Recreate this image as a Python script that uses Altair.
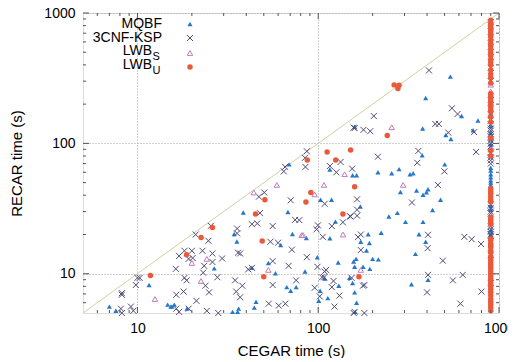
import altair as alt
import pandas as pd

FONT = "Liberation Sans"
TIMEOUT = 900

# ---- scattered points (CEGAR time, RECAR time) ----
mqbf_x = [26.6, 11.6, 7, 7.6, 14.7, 15.3, 15.5, 16, 18.8,
          69, 116, 155, 103, 118.5, 38.5, 68, 124.5, 34.3, 72, 86, 116, 35.5, 62, 53, 98.8,
          58, 84.5, 129, 157, 108.6, 130, 67, 70.4, 75.5, 102.5, 100.7, 113, 45.3, 44.3,
          36.3, 35.8, 33.6, 43,
          501, 163, 214, 255, 280, 322, 335, 285, 350, 380, 397, 405, 475, 171, 429, 274,
          246, 304, 380, 189, 223, 361, 172, 192, 185, 393, 345, 162, 200, 215, 159, 177,
          193, 149, 405, 155, 328, 159, 163, 160,
          538, 393, 621, 765, 159, 378, 508, 719, 542, 376]
mqbf_y = [11.0, 8.2, 5.6, 5.2, 5.8, 5.6, 5.6, 5.8, 5.4,
          69, 63, 57, 37, 37, 29.5, 29.8, 25.1, 20.2, 20.2, 18.8, 18.7, 17.7, 16.6, 12.1, 13.4,
          10.1, 10.4, 12.2, 12.4, 9.2, 8.1, 7.9, 7.4, 7.9, 7.4, 6.2, 6.5, 6.1, 5.5,
          5.4, 5.1, 5.1, 11.1,
          69, 57, 60, 59, 63.5, 58, 59, 42.4, 43.5, 40.4, 42.2, 44.5, 37, 32.8, 30.8, 29.3,
          27.5, 25, 25, 20.1, 20.6, 20.1, 17.6, 17.2, 15.1, 17.6, 14.2, 13, 13, 12.9, 11.3, 11.3,
          10.9, 9.3, 9.0, 8.5, 8.3, 7.2, 6.0, 5.1,
          325, 223, 162, 150, 134, 130, 116, 126, 108, 81]

cnf_x = [21, 25.5, 24.7, 18.2, 20, 22.9, 26, 17, 19.2, 20.2, 23.4, 26, 16.3, 23.1, 10.3, 10,
         9.8, 18.2, 18.7, 23.8, 27.7, 8.2, 8.2, 16.4, 18, 21.2, 8.1, 8.2, 9.2, 9.5, 17, 19.2,
         24.2, 24.9, 16.4, 28,
         65.6, 64.5, 85, 116, 133, 126, 154, 50.3, 47, 70.5, 108.6, 47.6, 150, 74.5, 78.6, 137,
         43, 46, 56, 99.6, 97.9, 119, 35.6, 35.6, 106, 54.4, 60, 71.5, 29.4, 36, 37, 56, 86.5,
         41, 43, 68.6, 99, 108.6, 110.5, 34.7, 38, 56, 75.5, 105, 108, 121.5, 153, 119, 95.6,
         35.2, 37, 131, 102, 53.3, 60.5, 65.8, 123,
         353, 499, 459, 330, 164, 164, 151, 164, 405, 172, 166, 643, 706, 796, 172, 403, 489,
         405, 630, 556, 180, 177, 400, 800, 612, 159, 180, 157,
         86.5, 84.5, 157, 410, 549, 590, 203, 159, 178, 194, 444, 465, 524, 728, 214, 358, 747]
cnf_y = [20, 23.3, 17.9, 15, 15, 15, 14.3, 13.7, 13, 13.2, 11.5, 12.3, 10.9, 10.2, 9.3, 9.3,
         8.2, 9.3, 8.9, 8.1, 9.4, 7.1, 6.9, 6.9, 7.3, 6.2, 5.4, 5.0, 5.6, 5.2, 5.1, 5.4,
         5.2, 7.2, 5.4, 5.0,
         66, 61, 66, 67, 72, 60, 64, 42, 39, 36.6, 34.4, 29.2, 27.6, 25.9, 25.8, 24.8,
         24, 24.3, 23.2, 23.5, 21.9, 23.2, 22.2, 20.4, 19.2, 17.6, 17.3, 15.3, 13.1, 14.5, 14.3, 12.5, 13.4,
         10.8, 11.1, 11.5, 11.3, 10.4, 10.7, 8.9, 8.1, 8.2, 8.9, 9.4, 9.4, 8.8, 9.3, 7.9, 7.8,
         7.3, 6.6, 6.8, 6.7, 5.9, 5.7, 5.9, 5.6,
         71, 61, 48, 35.2, 37.2, 31, 27.5, 27.9, 19.9, 20, 19.1, 19.2, 18.4, 16.9, 15.2, 15.7, 12.6,
         9.8, 9.8, 8.9, 8.2, 8.1, 7.2, 7.3, 5.9, 5.1, 5.0, 5.0,
         87, 77.5, 132, 363, 186, 168, 162, 131, 127, 124, 141, 141, 121, 122, 79, 87.5, 86]

lwbs_x = [20, 24.2, 22.5, 12.5, 140, 59, 107.6, 44, 95.6, 81, 82.5, 137, 53, 295, 172, 255]
lwbs_y = [12.1, 13, 8.8, 6.4, 58, 48, 48, 42, 40.6, 19.8, 19.8, 20, 10.7, 48, 10.7, 133]

lwbu_x = [22.5, 26, 18.7, 11.8, 87, 125, 50.7, 91, 85.5, 45, 137, 49, 50, 159, 168,
          112, 151, 263, 280, 276, 241]
lwbu_y = [19, 22.6, 14, 9.7, 74.5, 74.5, 37, 42, 35.5, 28.7, 28.7, 17.8, 9.5, 46.5, 9.5,
          86, 89, 281, 279, 264, 115]

# ---- instances that timed out for CEGAR (x = timeout), RECAR time ----
mqbf_col_y = [770, 720, 300, 170, 135, 120, 108, 98, 90, 65, 62, 58, 55, 52, 50, 48, 46,
              33, 31, 21.5, 20]
cnf_col_y = [850, 800, 650, 550, 460, 380, 300, 215, 185, 150, 140, 130, 125, 118, 112, 105,
             100, 95, 85, 78, 74, 70, 34, 32, 30, 29, 23, 22, 21, 20, 19.5, 14, 8.5]
lwbs_col_y = [282, 250, 90]
lwbu_col_y = [880, 830, 790, 750, 720, 690, 660, 620, 590, 560, 530, 500, 470, 440, 420, 400,
              365, 340, 320, 290, 240, 230, 220, 210, 200, 190, 180, 175, 160, 145, 110, 88, 80,
              45, 43, 41, 39, 37, 35.5, 27, 26, 25, 24, 18.5, 18, 17, 16.5, 16, 15, 14.5, 13.5,
              13, 12.5, 12, 11.5, 11, 10.5, 10, 9.6, 9.2, 8.8, 8.4, 8, 7.6, 7.2, 6.8, 6.4, 6.1,
              5.8, 5.5, 5.2]

diag = [5, 1000]
major_ticks = [10, 100, 1000]
minor_ticks = [6, 7, 8, 9, 20, 30, 40, 50, 60, 70, 80, 90, 200, 300, 400, 500, 600, 700, 800, 900]

series_names = ["MQBF", "3CNF-KSP", "LWB", "LWB"]
series_subs = ["", "", "S", "U"]
colors = ["#2577cc", "#4e4a78", "#c27bb9", "#ea5a3a"]

W, H = 416, 300
xscale = alt.Scale(type="log", domain=[5, 1000], nice=False)
yscale = alt.Scale(type="log", domain=[5, 1000], nice=False)

axis_common = dict(values=major_ticks, grid=True, gridDash=[1, 2], gridColor="#a0a0a0",
                   gridWidth=1, tickSize=0, domain=False, labelFont=FONT, labelFontSize=14,
                   labelColor="#000", titleFont=FONT, titleFontSize=15, titleColor="#000",
                   titleFontWeight="normal", format="d", labelFlush=False)
X = alt.X("x:Q", scale=xscale,
          axis=alt.Axis(title="CEGAR time (s)", labelPadding=8, titleY=37,
                        titleBaseline="middle", **axis_common))
Y = alt.Y("y:Q", scale=yscale,
          axis=alt.Axis(title="RECAR time (s)", labelPadding=8, titleX=-67,
                        titleBaseline="middle", **axis_common))


def pts(xs, ys):
    return pd.DataFrame({"x": xs, "y": ys})


X_PATH = "M-1,-1L1,1M-1,1L1,-1"

def series_layer(df, k):
    if k == 0:
        m = alt.Chart(df).mark_point(shape="triangle-up", filled=True, size=26, color=colors[0], opacity=1)
    elif k == 1:
        m = alt.Chart(df).mark_point(shape=X_PATH, filled=False, size=36, strokeWidth=1, color=colors[1], opacity=1)
    elif k == 2:
        m = alt.Chart(df).mark_point(shape="triangle-up", filled=False, size=30, strokeWidth=1, color=colors[2], opacity=1)
    else:
        m = alt.Chart(df).mark_point(shape="circle", filled=True, size=30, color=colors[3], opacity=1)
    return m


data_sets = [
    pts(mqbf_x + [TIMEOUT] * len(mqbf_col_y), mqbf_y + mqbf_col_y),
    pts(cnf_x + [TIMEOUT] * len(cnf_col_y), cnf_y + cnf_col_y),
    pts(lwbs_x + [TIMEOUT] * len(lwbs_col_y), lwbs_y + lwbs_col_y),
    pts(lwbu_x + [TIMEOUT] * len(lwbu_col_y), lwbu_y + lwbu_col_y),
]

diag_layer = alt.Chart(pts(diag, diag)).mark_line(color="#c9d4a3", strokeWidth=1).encode(x=X, y=Y)

layers = [diag_layer]
for k, df in enumerate(data_sets):
    layers.append(series_layer(df, k).encode(x=X, y=Y))

# tick marks (inward, on all four sides)
def tick_layers(vals, ln):
    d = pd.DataFrame({"x": vals, "y": vals})
    out = []
    out.append(alt.Chart(d).mark_rule(color="#555").encode(x=X, y=alt.value(H), y2=alt.value(H - ln)))
    out.append(alt.Chart(d).mark_rule(color="#555").encode(x=X, y=alt.value(0), y2=alt.value(ln)))
    out.append(alt.Chart(d).mark_rule(color="#555").encode(y=Y, x=alt.value(0), x2=alt.value(ln)))
    out.append(alt.Chart(d).mark_rule(color="#555").encode(y=Y, x=alt.value(W), x2=alt.value(W - ln)))
    return out

layers += tick_layers(major_ticks, 6)
layers += tick_layers(minor_ticks, 3)

# legend (drawn inside the plot, top-left)
one = pd.DataFrame({"a": [0]})
row_y = [11, 25, 39, 53]
for k in range(4):
    yy = row_y[k]
    if series_subs[k]:
        layers.append(alt.Chart(one).mark_text(text=series_names[k], align="right", baseline="middle",
                                               font=FONT, fontSize=14, color="#000")
                      .encode(x=alt.value(69), y=alt.value(yy - 1)))
        layers.append(alt.Chart(one).mark_text(text=series_subs[k], align="left", baseline="middle",
                                               font=FONT, fontSize=11, color="#000")
                      .encode(x=alt.value(69.5), y=alt.value(yy + 5)))
    else:
        layers.append(alt.Chart(one).mark_text(text=series_names[k], align="right", baseline="middle",
                                               font=FONT, fontSize=14, color="#000")
                      .encode(x=alt.value(79), y=alt.value(yy)))
    layers.append(series_layer(one, k).encode(x=alt.value(107), y=alt.value(yy + (1 if k >= 2 else 0))))

chart = alt.layer(*layers).properties(
    width=W, height=H,
    autosize="none",
    padding={"left": 75, "top": 5, "right": 9, "bottom": 45},
).configure_view(stroke="#444", strokeWidth=1).configure(background="white")

chart.save("out.html", embed_options={"renderer": "svg", "actions": False})
